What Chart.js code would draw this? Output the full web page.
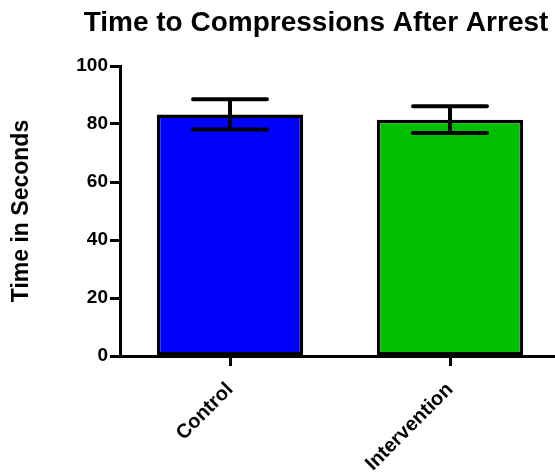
<!DOCTYPE html>
<html>
<head>
<meta charset="utf-8">
<script src="https://cdn.jsdelivr.net/npm/chart.js@4"></script>
<style>
    html, body { margin: 0; padding: 0; background: #fff; overflow: hidden; }
    .chart-box { width: 565px; height: 474px; }
</style>
</head>
<body>
<div class="chart-box">
    <canvas id="chart" width="565" height="474"></canvas>
</div>
<script>
const categories = ['Control', 'Intervention']
const meanSeconds = [83.3, 81.5]
const semSeconds = [5.2, 4.6]
const barColors = ['#0000ff', '#00c000']
const yTickStep = 20
const chartTitle = 'Time to Compressions After Arrest'
const yTitle = 'Time in Seconds'

const fontFamily = "'Liberation Sans', Arial, sans-serif"


/**
 * error bars (mean +/- sem) drawn over each bar
 */
const errorBars = {
    id: 'errorBars',
    afterDatasetsDraw(chart) {
        const {ctx, scales: {x, y}} = chart
        const capHalf = 37
        ctx.save()
        ctx.strokeStyle = '#000'
        ctx.lineWidth = 4
        ctx.lineCap = 'round'
        meanSeconds.forEach((mean, i) => {
            const cx = x.getPixelForValue(i)
            const top = y.getPixelForValue(mean + semSeconds[i])
            const bottom = y.getPixelForValue(mean - semSeconds[i])
            ctx.beginPath()
            ctx.moveTo(cx, top)
            ctx.lineTo(cx, bottom)
            ctx.moveTo(cx - capHalf, top)
            ctx.lineTo(cx + capHalf, top)
            ctx.moveTo(cx - capHalf, bottom)
            ctx.lineTo(cx + capHalf, bottom)
            ctx.stroke()
        })
        ctx.restore()
    }
}

// title sits off-centre in the original, so it is placed by hand
const offsetTitle = {
    id: 'offsetTitle',
    afterDraw(chart) {
        const {ctx} = chart
        ctx.save()
        ctx.font = `bold 28px ${fontFamily}`
        ctx.fillStyle = '#000'
        ctx.textAlign = 'center'
        ctx.textBaseline = 'middle'
        ctx.fillText(chartTitle, 316, 23)
        ctx.restore()
    }
}

new Chart(document.getElementById('chart'), {
    type: 'bar',
    data: {
        labels: categories,
        datasets: [{
            data: meanSeconds,
            backgroundColor: barColors,
            borderColor: '#000',
            borderWidth: 3.5,
            borderSkipped: false,
            barPercentage: 0.665,
            categoryPercentage: 1,
        }]
    },
    options: {
        responsive: false,
        animation: false,
        devicePixelRatio: 1,
        layout: {
            padding: {top: 66, right: 5, left: 0, bottom: 0}
        },
        plugins: {
            legend: {display: false},
            tooltip: {enabled: false},
        },
        scales: {
            x: {
                grid: {
                    offset: false,
                    drawOnChartArea: false,
                    tickLength: 10,
                    tickWidth: 3,
                    tickColor: '#000',
                },
                border: {color: '#000', width: 3},
                ticks: {
                    minRotation: 45,
                    maxRotation: 45,
                    padding: 12,
                    color: '#000',
                    font: {family: fontFamily, size: 20, weight: 'bold'},
                },
                afterFit(scale) {
                    scale.height = 118
                },
            },
            y: {
                min: 0,
                max: 100,
                grid: {
                    drawOnChartArea: false,
                    tickLength: 10,
                    tickWidth: 3,
                    tickColor: '#000',
                },
                border: {color: '#000', width: 3},
                ticks: {
                    stepSize: yTickStep,
                    padding: 2,
                    color: '#000',
                    font: {family: fontFamily, size: 19, weight: 'bold'},
                },
                title: {
                    display: true,
                    text: yTitle,
                    color: '#000',
                    padding: {top: 8, bottom: 0},
                    font: {family: fontFamily, size: 23, weight: 'bold'},
                },
                afterFit(scale) {
                    scale.width = 120
                },
            }
        }
    },
    plugins: [errorBars, offsetTitle],
})
</script>
</body>
</html>
